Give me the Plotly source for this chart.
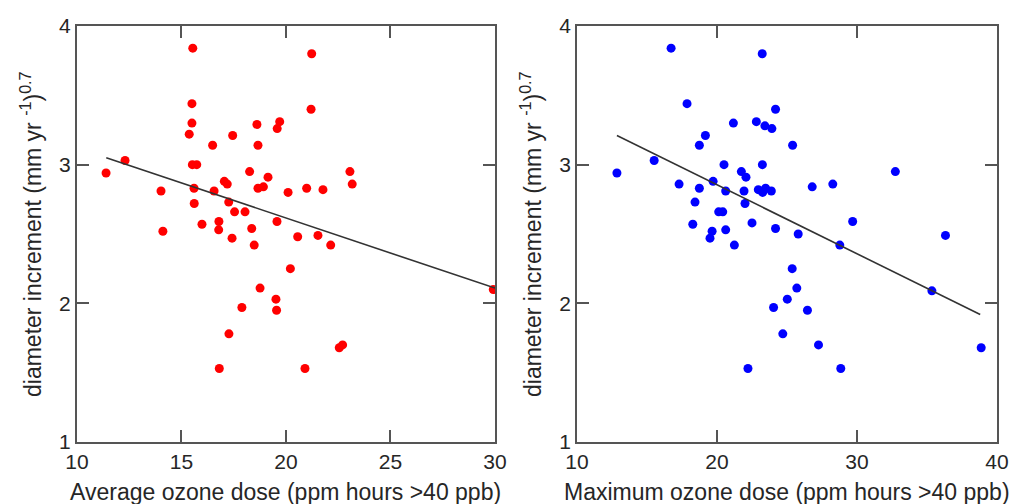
import plotly.graph_objects as go

# Left panel: average ozone dose vs diameter increment
avg_dose = [15.54, 21.23, 15.50, 21.20, 15.50, 18.61, 19.70, 19.58, 15.37, 17.45,
            16.49, 18.66, 12.30, 15.52, 15.73, 11.39, 18.26, 23.06, 23.17, 19.14,
            17.05, 17.19, 14.02, 15.60, 16.56, 18.66, 18.92, 20.10, 20.99, 21.77,
            15.61, 17.26, 17.54, 18.04, 19.57, 15.98, 16.79, 16.78, 14.11, 18.36,
            17.42, 20.56, 21.53, 18.48, 22.14, 20.21, 18.76, 19.52, 17.89, 19.55,
            17.27, 22.55, 22.71, 16.81, 20.91, 29.92]
avg_incr = [3.84, 3.80, 3.44, 3.40, 3.30, 3.29, 3.31, 3.26, 3.22, 3.21,
            3.14, 3.14, 3.03, 3.00, 3.00, 2.94, 2.95, 2.95, 2.86, 2.91,
            2.88, 2.86, 2.81, 2.83, 2.81, 2.83, 2.84, 2.80, 2.83, 2.82,
            2.72, 2.73, 2.66, 2.66, 2.59, 2.57, 2.59, 2.53, 2.52, 2.54,
            2.47, 2.48, 2.49, 2.42, 2.42, 2.25, 2.11, 2.03, 1.97, 1.95,
            1.78, 1.68, 1.70, 1.53, 1.53, 2.10]
avg_fit_x = [11.4, 30.0]
avg_fit_y = [3.05, 2.11]

# Right panel: maximum ozone dose vs diameter increment
max_dose = [16.72, 23.23, 17.86, 24.18, 21.17, 22.81, 23.42, 23.92, 19.17, 18.74,
            25.40, 15.51, 12.85, 20.50, 23.24, 21.74, 22.07, 32.74, 19.72, 17.29,
            18.74, 20.62, 21.93, 22.95, 23.26, 23.47, 23.88, 26.80, 28.27, 18.43,
            22.00, 20.12, 20.41, 18.27, 22.50, 29.69, 19.65, 19.50, 20.62, 24.18,
            25.80, 36.32, 21.24, 28.77, 25.37, 25.70, 25.02, 24.04, 26.46, 24.70,
            27.25, 38.87, 22.21, 28.84, 35.35]
max_incr = [3.84, 3.80, 3.44, 3.40, 3.30, 3.31, 3.28, 3.26, 3.21, 3.14,
            3.14, 3.03, 2.94, 3.00, 3.00, 2.95, 2.91, 2.95, 2.88, 2.86,
            2.83, 2.81, 2.81, 2.82, 2.80, 2.83, 2.81, 2.84, 2.86, 2.73,
            2.72, 2.66, 2.66, 2.57, 2.58, 2.59, 2.52, 2.47, 2.53, 2.54,
            2.50, 2.49, 2.42, 2.42, 2.25, 2.11, 2.03, 1.97, 1.95, 1.78,
            1.70, 1.68, 1.53, 1.53, 2.09]
max_fit_x = [12.85, 38.8]
max_fit_y = [3.21, 1.92]

x_titles = ["Average ozone dose (ppm hours >40 ppb)",
            "Maximum ozone dose (ppm hours >40 ppb)"]
y_title = "diameter increment (mm yr <sup>-1</sup>)<sup>0.7</sup>"

FONT = "Liberation Sans, Arial, Helvetica, sans-serif"
TXT = "#262626"
FRAME = "#555555"

fig = go.Figure()
fig.add_trace(go.Scatter(x=avg_dose, y=avg_incr, mode="markers",
                         marker=dict(color="#ff0000", size=9, line=dict(width=0)),
                         xaxis="x", yaxis="y", showlegend=False))
fig.add_trace(go.Scatter(x=avg_fit_x, y=avg_fit_y, mode="lines",
                         line=dict(color="#333333", width=1.6),
                         xaxis="x", yaxis="y", showlegend=False))
fig.add_trace(go.Scatter(x=max_dose, y=max_incr, mode="markers",
                         marker=dict(color="#0000ff", size=9, line=dict(width=0)),
                         xaxis="x2", yaxis="y2", showlegend=False))
fig.add_trace(go.Scatter(x=max_fit_x, y=max_fit_y, mode="lines",
                         line=dict(color="#333333", width=1.6),
                         xaxis="x2", yaxis="y2", showlegend=False))

axis_common = dict(showline=True, linecolor=FRAME, linewidth=2, mirror="ticks",
                   ticks="inside", ticklen=12, tickwidth=2, tickcolor=FRAME,
                   showgrid=False, zeroline=False, automargin=False,
                   tickfont=dict(family=FONT, size=21, color=TXT))

fig.update_layout(
    width=1010, height=504,
    margin=dict(l=77, r=13, t=26, b=62),
    paper_bgcolor="white", plot_bgcolor="white",
    xaxis=dict(domain=[0, 0.4543], range=[10, 30], tickvals=[10, 15, 20, 25, 30],
               anchor="y", **axis_common),
    yaxis=dict(domain=[0, 1], range=[1, 4], tickvals=[1, 2, 3, 4],
               anchor="x", **axis_common),
    xaxis2=dict(domain=[0.5435, 1], range=[10, 40], tickvals=[10, 20, 30, 40],
                anchor="y2", **axis_common),
    yaxis2=dict(domain=[0, 1], range=[1, 4], tickvals=[1, 2, 3, 4],
                anchor="x2", **axis_common),
)

annots = []
for xa, title in zip(["x", "x2"], x_titles):
    annots.append(dict(text=title, xref=f"{xa} domain", yref="paper",
                       x=0.5, y=0, yshift=-50, showarrow=False,
                       xanchor="center", yanchor="middle",
                       font=dict(family=FONT, size=23, color=TXT)))
for xa in ["x", "x2"]:
    annots.append(dict(text=y_title, xref=f"{xa} domain", yref="paper",
                       x=0, y=0.5, xshift=-46, showarrow=False, textangle=-90,
                       xanchor="center", yanchor="middle",
                       font=dict(family=FONT, size=23, color=TXT)))
fig.update_layout(annotations=annots)

fig.write_html("out.html",
               config={"displayModeBar": False},
               post_script="document.body.style.margin='0';"
                           "document.body.style.overflow='hidden';")
